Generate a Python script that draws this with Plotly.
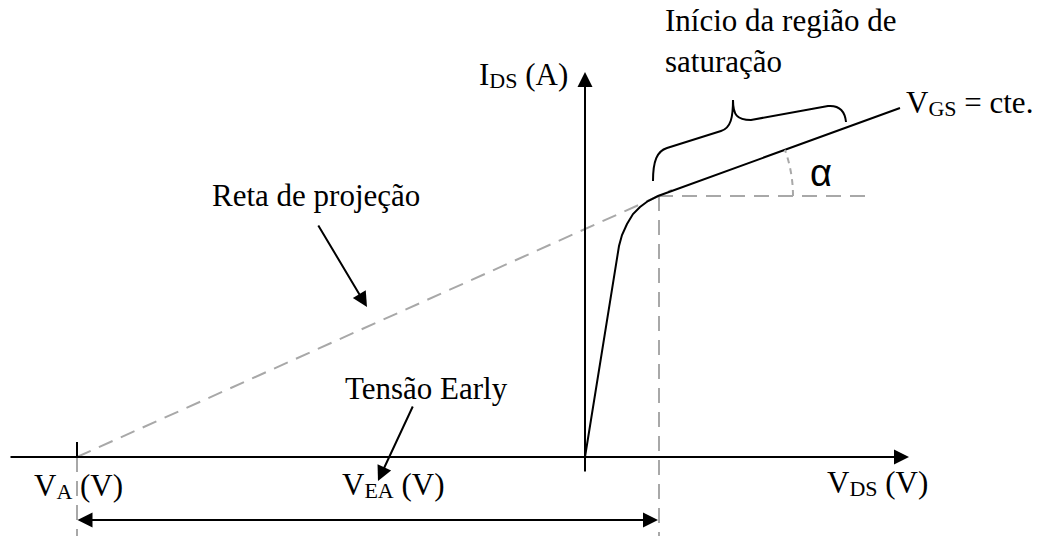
import plotly.graph_objects as go

# units are screen pixels, origin where the two axes cross, y pointing up
x_range = [-585, 453]
y_range = [-79, 457]

# I_DS x V_DS curve for V_GS = cte. (triode ramp, knee, saturation line)
curve_vds = [0, 34, 37, 42, 48, 55, 63, 73, 315]
curve_ids = [0, 211, 222, 233, 243, 250, 256, 261, 349]

# Early voltage and knee of the curve
v_a = -508
knee_vds = 73
knee_ids = 261

# dashed helper lines
proj_vds = [v_a, 87]
proj_ids = [0, 267]
level_vds = [knee_vds, 285]
level_ids = [knee_ids, knee_ids]
knee_drop_vds = [74, 74]
knee_drop_ids = [knee_ids, -79]
va_drop_vds = [v_a, v_a]
va_drop_ids = [0, -79]
va_tick_ids = [0, 15]

# arrows as (tail, tip)
vds_axis = [(-575, 0), (324, 0)]
ids_axis = [(0, -15), (0, 385)]
vea_arrow = [(v_a, -63), (knee_vds, -63)]
reta_arrow = [(-267, 232), (-218, 150)]
early_arrow = [(-172, 51), (-207, -24)]

# angle alpha arc (cubic bezier: start, ctrl1, ctrl2, end)
alpha_arc = [(208, 261), (208, 276.7), (205.3, 292.4), (199.9, 307.2)]

# brace over the start of the saturation region
brace_pts = [(68, 276), (68, 296), (72, 306), (82, 309), (136, 326),
             (146, 329), (148, 340), (148, 357), (148, 342), (152, 337),
             (166, 337), (243, 351), (255, 352), (260, 345), (261, 335)]

BLACK = "black"
GRAY = "#a8a8a8"
DASH = "15px,9px"
SERIF = "Liberation Serif, Times New Roman, serif"


def pt(p):
    return f"{p[0]},{p[1]}"


def sub(s):
    return f'<span style="font-size:22px;baseline-shift:-3px">{s}</span>'


fig = go.Figure()

for xs, ys in [(proj_vds, proj_ids), (level_vds, level_ids),
               (knee_drop_vds, knee_drop_ids), (va_drop_vds, va_drop_ids)]:
    fig.add_trace(go.Scatter(x=xs, y=ys, mode="lines", hoverinfo="skip",
                             line=dict(color=GRAY, width=2, dash=DASH)))

fig.add_trace(go.Scatter(x=[v_a, v_a], y=va_tick_ids, mode="lines",
                         hoverinfo="skip", line=dict(color=BLACK, width=2)))
fig.add_trace(go.Scatter(x=curve_vds, y=curve_ids, mode="lines",
                         hoverinfo="skip", line=dict(color=BLACK, width=2)))

b = brace_pts
brace_path = (f"M{pt(b[0])} C{pt(b[1])} {pt(b[2])} {pt(b[3])} L{pt(b[4])} "
              f"C{pt(b[5])} {pt(b[6])} {pt(b[7])} C{pt(b[8])} {pt(b[9])} {pt(b[10])} "
              f"L{pt(b[11])} C{pt(b[12])} {pt(b[13])} {pt(b[14])}")
fig.add_shape(type="path", path=brace_path, xref="x", yref="y",
              line=dict(color=BLACK, width=2))

a = alpha_arc
fig.add_shape(type="path", xref="x", yref="y",
              path=f"M{pt(a[0])} C{pt(a[1])} {pt(a[2])} {pt(a[3])}",
              line=dict(color=GRAY, width=2, dash="6px,5px"))

arrow_style = dict(showarrow=True, text="", arrowcolor=BLACK, arrowwidth=2,
                   arrowhead=2, arrowsize=1.5, axref="x", ayref="y",
                   xref="x", yref="y", borderpad=0)

for tail, tip in [vds_axis, ids_axis, reta_arrow, early_arrow]:
    fig.add_annotation(x=tip[0], y=tip[1], ax=tail[0], ay=tail[1], **arrow_style)
fig.add_annotation(x=vea_arrow[1][0], y=vea_arrow[1][1],
                   ax=vea_arrow[0][0], ay=vea_arrow[0][1],
                   arrowside="end+start", startarrowhead=2, startarrowsize=1.5,
                   **arrow_style)

# labels: (text, x, baseline y, xanchor)
labels = [
    ("I" + sub("DS") + " (A)", -15, 370, "right"),
    ("V" + sub("GS") + " = cte.", 319, 342, "left"),
    ("Início da região de", 78, 425, "left"),
    ("saturação", 78, 384, "left"),
    ("Reta de projeção", -375, 250, "left"),
    ("Tensão Early", -242, 57, "left"),
    ("V" + sub("A") + " (V)", -553, -41, "left"),
    ("V" + sub("EA") + " (V)", -245, -40, "left"),
    ("V" + sub("DS") + " (V)", 240, -38, "left"),
]
for text, x, y, xa in labels:
    fig.add_annotation(text=text, x=x, y=y - 8, xanchor=xa, yanchor="bottom",
                       showarrow=False, xref="x", yref="y",
                       font=dict(family=SERIF, size=31, color=BLACK))

fig.add_annotation(text="α", x=236, y=284, xanchor="center", yanchor="middle",
                   showarrow=False, xref="x", yref="y",
                   font=dict(family="Liberation Sans, Arial, sans-serif",
                             size=38, color=BLACK))

fig.update_layout(
    width=1038,
    height=536,
    margin=dict(l=0, r=0, t=0, b=0),
    showlegend=False,
    paper_bgcolor="white",
    plot_bgcolor="white",
    xaxis=dict(range=x_range, visible=False, fixedrange=True),
    yaxis=dict(range=y_range, visible=False, fixedrange=True),
)

# drop the default page margin so the figure fills the window exactly
fig.write_html("out.html", config={"displayModeBar": False},
               post_script="document.body.style.margin = '0';")
